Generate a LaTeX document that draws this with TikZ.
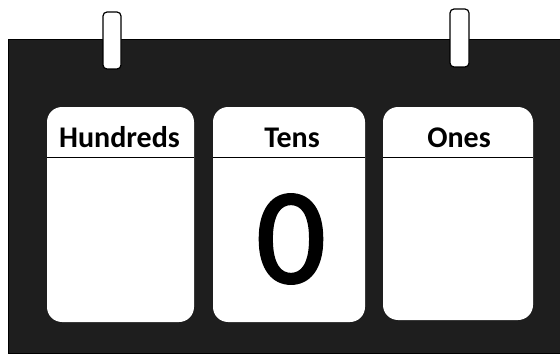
\documentclass[tikz,border=0pt]{standalone}
\usepackage{fontspec}
\setmainfont{Carlito}
\font\zerofont="Carlito:embolden=2" at 136pt
\definecolor{board}{RGB}{30,30,30}
\begin{document}
\begin{tikzpicture}[x=1pt,y=1pt,
  boardbox/.style={fill=board,draw=black,line width=0.8pt},
  pinbox/.style={fill=white,draw=black,line width=1.2pt,rounded corners=4pt},
  card/.style={fill=white,draw=none,rounded corners=15pt},
  headline/.style={draw=black,line width=1pt},
  label/.style={font=\fontsize{30}{33}\selectfont\bfseries,text=black,anchor=base},
  digit/.style={font=\zerofont,text=black}]
\useasboundingbox (0,0) rectangle (560,357);
% board
\path[boardbox] (8,4) rectangle (562,318);
% pins
\path[pinbox] (103,288) rectangle (121,345);
\path[pinbox] (450,290) rectangle (469,348);
% cards
\path[card] (47,35) rectangle (194,250);
\path[card] (213,35) rectangle (365,250);
\path[card] (383,37) rectangle (533,250);
\coordinate (h1) at (47,200); \coordinate (h2) at (194,200);
\coordinate (t1) at (213,200); \coordinate (t2) at (365,200);
\coordinate (o1) at (383,200); \coordinate (o2) at (533,200);
\draw[headline] (h1) -- (h2);
\draw[headline] (t1) -- (t2);
\draw[headline] (o1) -- (o2);
\node[label] (hl) at (119.5,210) {Hundreds};
\node[label] (tl) at (292,210) {Tens};
\node[label] (ol) at (459,210) {Ones};
\node[digit] (zero) at (291,118) {0};
\end{tikzpicture}
\end{document}
